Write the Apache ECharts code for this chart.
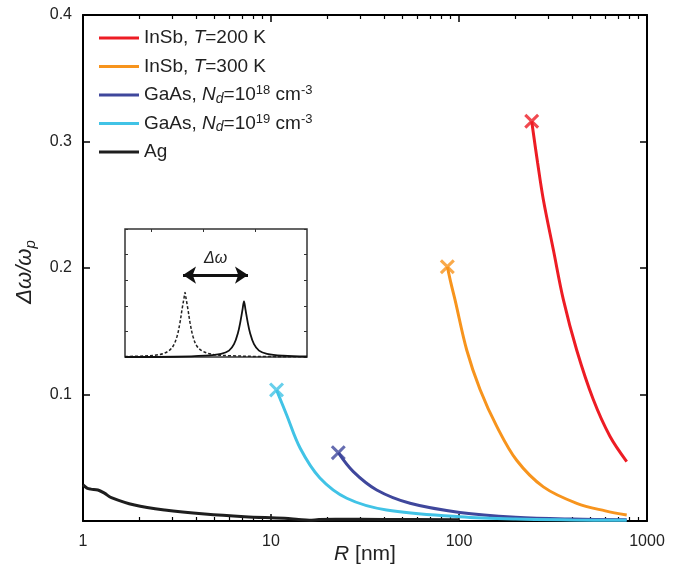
<!DOCTYPE html>
<html>
<head>
<meta charset="utf-8">
<script src="https://cdn.jsdelivr.net/npm/echarts@6/dist/echarts.min.js"></script>
</head>
<body style="margin:0">
<div id="main" style="width:677px;height:570px;"></div>
<script>
// [R (nm), dw/wp]; first point of each is the x marker
var inSb200 = [[243.6,0.316],[262,0.283],[281,0.254],[318,0.214],[359,0.175],[423,0.135],[518,0.096],[635,0.067],[780,0.047]];
var inSb300 = [[86.7,0.201],[90.6,0.188],[95.2,0.175],[110,0.135],[129.4,0.104],[158.6,0.075],[202.6,0.048],[281,0.027],[423,0.014],[600,0.008],[780,0.0047]];
var gaAs18 = [[22.8,0.054],[27.4,0.039],[36.5,0.0245],[54.9,0.014],[101,0.0068],[200,0.003],[400,0.0015],[780,0.001]];
var gaAs19 = [[10.7,0.1036],[12.1,0.084],[14.3,0.0575],[18.2,0.034],[25.3,0.018],[41.2,0.0087],[101,0.0034],[200,0.0015],[400,0.0008],[780,0.0005]];
var ag = [[1.0,0.0285],[1.05,0.026],[1.1,0.0252],[1.2,0.0245],[1.3,0.022],[1.415,0.0185],[1.88,0.0126],[2.72,0.0087],[4.44,0.0055],[7.25,0.0034],[11.8,0.0021],[14,0.0012],[16,0.0006],[18,0.0011],[22,0.0014],[40,0.0012],[100,0.001]];

var seriesNames = ['InSb, T=200 K', 'InSb, T=300 K', 'GaAs, Nd=10^18 cm^-3', 'GaAs, Nd=10^19 cm^-3', 'Ag'];
var legendText = ['InSb, {i|T}=200 K', 'InSb, {i|T}=300 K', 'GaAs, {i|N}{sub|d}=10{sup|18} cm{sup|-3}', 'GaAs, {i|N}{sub|d}=10{sup|19} cm{sup|-3}', 'Ag'];
var colors = ['#ED1C24', '#F7941D', '#3F479C', '#41C3E6', '#1E1E1E'];

var minorR = [2,3,4,5,6,7,8,9,20,30,40,50,60,70,80,90,200,300,400,500,600,700,800,900];

// inset: x in px from the inset's left edge, y in tick units
var insetDashed = [[0,0.02],[20,0.04],[35,0.1],[43,0.22],[48,0.42],[52,0.8],[55,1.35],[57,1.85],[59,2.3],[60,2.52],[61,2.3],[63,1.85],[65,1.35],[68,0.8],[72,0.42],[78,0.22],[88,0.1],[105,0.05],[135,0.02],[182,0.01]];
var insetSolid = [[0,0.0],[50,0.01],[80,0.05],[96,0.12],[104,0.25],[109,0.5],[113,0.95],[115.5,1.4],[117.5,1.85],[119,2.17],[120.5,1.85],[122.5,1.4],[125,0.95],[129,0.5],[134,0.25],[142,0.12],[158,0.05],[182,0.02]];
var insetTicksX = [26, 78, 130];
var arrowY = 3.2, arrowX = [58, 123];

var FONT = 'Liberation Sans, Arial, sans-serif';
var chart = echarts.init(document.getElementById('main'));

var axisLine = {show: true, onZero: false, lineStyle: {color: '#000', width: 2}};
var tick = {inside: true, length: 7, lineStyle: {color: '#000', width: 1.5}};
var minorTick = {inside: true, length: 4, customValues: minorR, lineStyle: {color: '#000', width: 1.2}};

function logAxis(pos, withLabel) {
    return {
        type: 'log', logBase: 10, min: 1, max: 1000, gridIndex: 0, position: pos,
        axisLine: axisLine, axisTick: tick, splitLine: {show: false},
        axisLabel: {show: withLabel, margin: 13, fontSize: 16, color: '#222', fontFamily: FONT,
            formatter: function (v) { return String(Math.round(v)); }}
    };
}
function minorAxis(pos) {
    return {
        type: 'log', logBase: 10, min: 1, max: 1000, gridIndex: 0, position: pos,
        axisLine: {show: false, onZero: false}, axisTick: minorTick, axisLabel: {show: false}, splitLine: {show: false}
    };
}

var xMain = logAxis('bottom', true);
xMain.name = '{i|R} [nm]';
xMain.nameLocation = 'middle';
xMain.nameGap = 23;
xMain.nameMoveOverlap = false;
xMain.nameTextStyle = {fontSize: 21, color: '#222', fontFamily: FONT, rich: {i: {fontStyle: 'italic', fontSize: 21, fontFamily: FONT}}};

var series = [];
[inSb200, inSb300, gaAs18, gaAs19, ag].forEach(function (d, k) {
    series.push({
        name: seriesNames[k], type: 'line', data: d, xAxisIndex: 0, yAxisIndex: 0,
        symbol: 'none', smooth: 0.35,
        lineStyle: {color: colors[k], width: 3}, itemStyle: {color: colors[k]}, z: 3
    });
});
var cross = 'path://M0,2L2,0L7,5L12,0L14,2L9,7L14,12L12,14L7,9L2,14L0,12L5,7Z';
[inSb200, inSb300, gaAs18, gaAs19].forEach(function (d, k) {
    series.push({
        type: 'scatter', data: [d[0]], xAxisIndex: 0, yAxisIndex: 0,
        symbol: cross, symbolSize: 15, itemStyle: {color: colors[k]}, z: 4, silent: true
    });
});
series.push({
    type: 'line', data: insetDashed, xAxisIndex: 4, yAxisIndex: 2, symbol: 'none', smooth: 0.35,
    lineStyle: {color: '#222', width: 1.5, type: [3, 2]}, z: 6
});
series.push({
    type: 'line', data: insetSolid, xAxisIndex: 4, yAxisIndex: 2, symbol: 'none', smooth: 0.35,
    lineStyle: {color: '#111', width: 1.8}, z: 6,
    markLine: {
        silent: true, symbol: ['arrow', 'arrow'], symbolSize: [13, 13],
        lineStyle: {color: '#111', width: 3, type: 'solid'},
        label: {show: true, position: 'insideMiddleTop', distance: 9, formatter: 'Δω',
            fontStyle: 'italic', fontSize: 16, color: '#222', fontFamily: FONT},
        data: [[{coord: [arrowX[0], arrowY]}, {coord: [arrowX[1], arrowY]}]]
    }
});

chart.setOption({
    animation: false,
    backgroundColor: '#fff',
    grid: [
        {left: 83, right: 30, top: 15, bottom: 49, outerBoundsMode: 'none', containLabel: false},
        {left: 125, top: 229, width: 182, height: 128, outerBoundsMode: 'none', show: true, backgroundColor: 'transparent', borderColor: '#333', borderWidth: 1.5}
    ],
    legend: {
        data: seriesNames, left: 94, top: 22, orient: 'vertical',
        icon: 'rect', itemWidth: 40, itemHeight: 3, itemGap: 6.5,
        formatter: function (n) { return legendText[seriesNames.indexOf(n)]; },
        textStyle: {
            fontSize: 19, color: '#222', fontFamily: FONT, lineHeight: 22,
            rich: {
                i: {fontStyle: 'italic', fontSize: 19, fontFamily: FONT, lineHeight: 22},
                sub: {fontStyle: 'italic', fontSize: 14, fontFamily: FONT, lineHeight: 13, verticalAlign: 'bottom'},
                sup: {fontSize: 13, fontFamily: FONT, lineHeight: 12, verticalAlign: 'top'}
            }
        }
    },
    xAxis: [
        xMain,
        logAxis('top', false),
        minorAxis('bottom'),
        minorAxis('top'),
        {
            type: 'value', gridIndex: 1, min: 0, max: 182, position: 'top',
            axisLine: {show: false, onZero: false}, axisLabel: {show: false}, splitLine: {show: false},
            axisTick: {show: true, inside: true, length: 3, customValues: insetTicksX, lineStyle: {color: '#333'}}
        }
    ],
    yAxis: [
        {
            type: 'value', min: 0, max: 0.4, interval: 0.1, gridIndex: 0, position: 'left',
            axisLine: axisLine, axisTick: tick, splitLine: {show: false},
            axisLabel: {margin: 11, fontSize: 16, color: '#222', fontFamily: FONT,
                formatter: function (v) { return v === 0 ? '' : v.toFixed(1); }},
            name: '{i|Δω/ω}{sub|p}', nameLocation: 'middle', nameGap: 45, nameRotate: 90,
            nameTextStyle: {fontSize: 22, color: '#222', fontFamily: FONT, padding: [0, 8, 0, 0], rich: {
                i: {fontStyle: 'italic', fontSize: 22, fontFamily: FONT, lineHeight: 26},
                sub: {fontStyle: 'italic', fontSize: 15, fontFamily: FONT, lineHeight: 15, verticalAlign: 'bottom'}
            }}
        },
        {
            type: 'value', min: 0, max: 0.4, interval: 0.1, gridIndex: 0, position: 'right',
            axisLine: axisLine, axisTick: tick, axisLabel: {show: false}, splitLine: {show: false}
        },
        {
            type: 'value', min: 0, max: 5, interval: 1, gridIndex: 1, position: 'left',
            axisLine: {show: false, onZero: false}, axisLabel: {show: false}, splitLine: {show: false},
            axisTick: {show: true, inside: true, length: 3, lineStyle: {color: '#333'}}
        },
        {
            type: 'value', min: 0, max: 5, interval: 1, gridIndex: 1, position: 'right',
            axisLine: {show: false, onZero: false}, axisLabel: {show: false}, splitLine: {show: false},
            axisTick: {show: true, inside: true, length: 3, lineStyle: {color: '#333'}}
        }
    ],
    series: series
});
</script>
</body>
</html>
